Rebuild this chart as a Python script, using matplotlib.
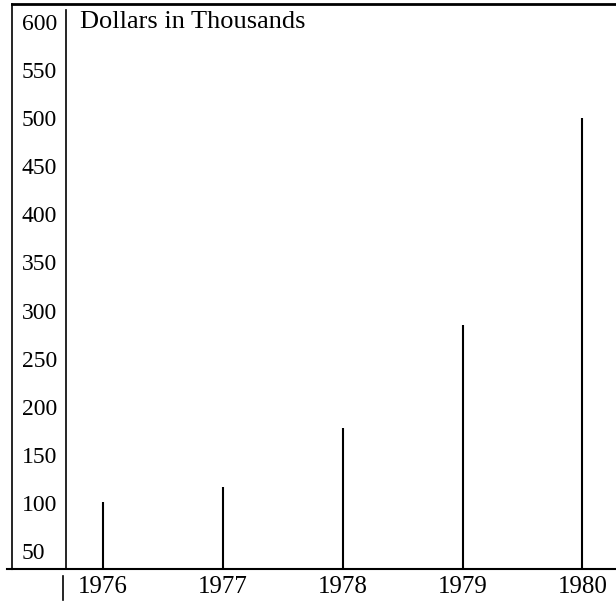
import matplotlib.pyplot as plt
from matplotlib.lines import Line2D

years = [1976, 1977, 1978, 1979, 1980]
values = [101, 117, 178, 285, 500]
y_ticks = [50, 100, 150, 200, 250, 300, 350, 400, 450, 500, 550, 600]
label = "Dollars in Thousands"

plt.rcParams['font.family'] = ['Liberation Serif', 'DejaVu Serif']

fig = plt.figure(figsize=(6.16, 6.03), dpi=100)
W, H = 616, 603
# axes box in pixels: left 12, right 616, top 4, bottom 569
ax = fig.add_axes([12 / W, 1 - 569 / H, (616 - 12) / W, (569 - 4) / H])

ymin, ymax = 31.4, 618.7
ax.set_xlim(1975.24, 1980.28)
ax.set_ylim(ymin, ymax)

ax.vlines(years, ymin, values, color='black', linewidth=1.5)

ax.set_xticks(years)
ax.set_xticklabels([str(y) for y in years], fontsize=18)
ax.tick_params(axis='x', length=0, pad=5)

ax.set_yticks(y_ticks)
ax.set_yticklabels([str(v) for v in y_ticks], fontsize=17)
ax.tick_params(axis='y', length=0, pad=-7)
for t in ax.get_yticklabels():
    t.set_horizontalalignment('left')

for side in ['top', 'left', 'bottom']:
    ax.spines[side].set_color('black')
ax.spines['top'].set_linewidth(2)
ax.spines['left'].set_linewidth(1.2)
ax.spines['bottom'].set_linewidth(1.5)
ax.spines['right'].set_visible(False)

ax.text((80 - 12) / (616 - 12), 600, label, fontsize=19,
        transform=ax.get_yaxis_transform(), va='center', ha='left')

# separator line between the tick labels and the plot area
fig.add_artist(Line2D([66 / W, 66 / W], [1 - 10 / H, 1 - 569 / H],
                      color='black', linewidth=1.2))
# bottom line runs a little past the left frame
fig.add_artist(Line2D([7 / W, 12 / W], [1 - 569 / H, 1 - 569 / H],
                      color='black', linewidth=1.5))
# small mark below the axis
fig.add_artist(Line2D([63 / W, 63 / W], [1 - 576 / H, 1 - 600 / H],
                      color='black', linewidth=1.2))

fig.savefig('out.png', dpi=100, facecolor='white')
